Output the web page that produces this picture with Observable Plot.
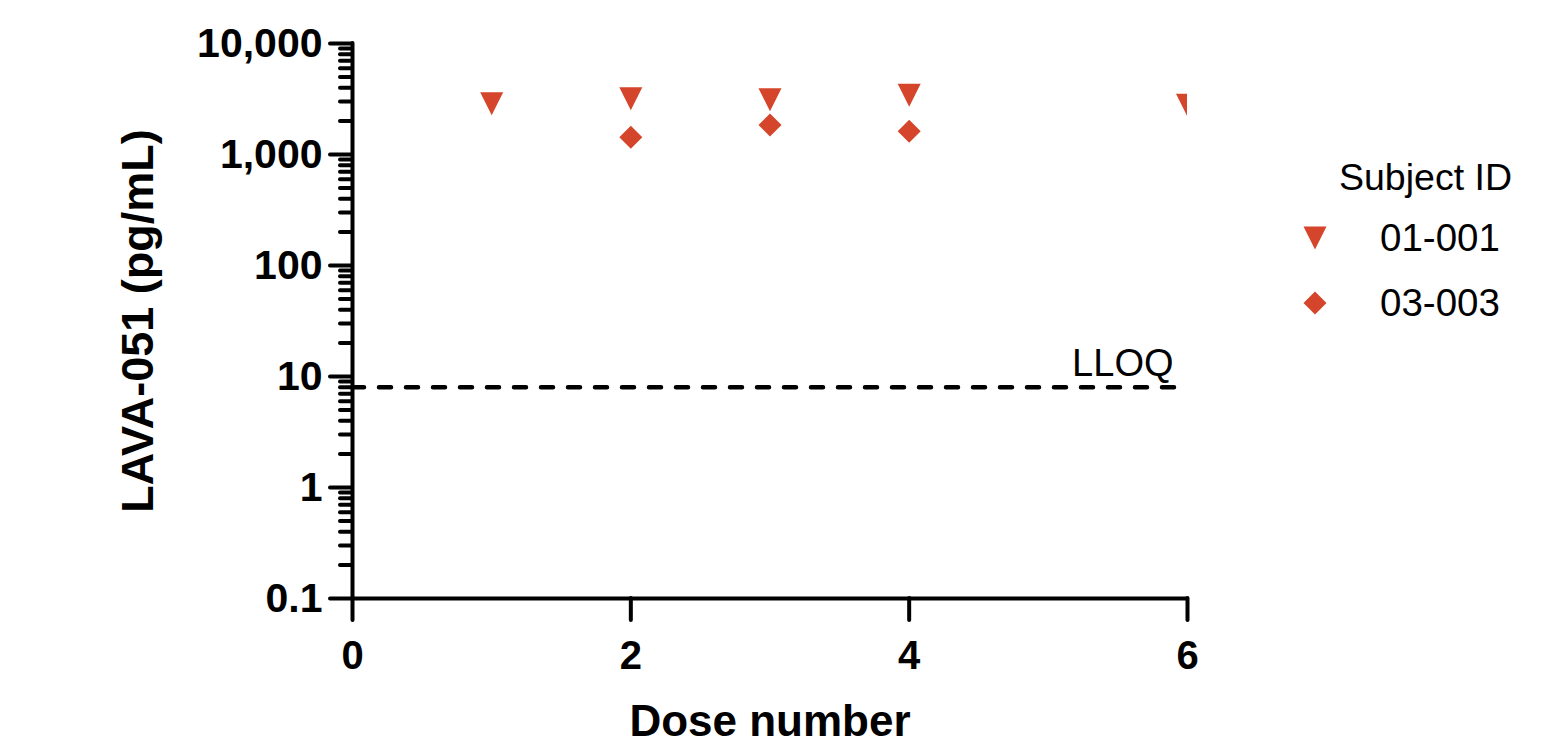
<!DOCTYPE html>
<html>
<head>
<meta charset="utf-8">
<script src="https://cdn.jsdelivr.net/npm/d3@7"></script>
<script src="https://cdn.jsdelivr.net/npm/@observablehq/plot@0.6"></script>
<style>
  html, body { margin: 0; padding: 0; background: white; }
  #wrap { position: relative; width: 1560px; height: 748px; }
  #legend { position: absolute; left: 0; top: 0; pointer-events: none; }
</style>
</head>
<body>
<div id="wrap"></div>
<script>
// ---- data ----
const subjects = ["01-001", "03-003"];
const doses01 = [1, 2, 3, 4, 6];
const values01 = [2870, 3180, 3110, 3420, 2780];
const doses03 = [2, 3, 4];
const values03 = [1430, 1840, 1620];
const lloq = 8;
const lloqLabel = "LLOQ";
const xTicks = [0, 2, 4, 6];
const yMajorTicks = [0.1, 1, 10, 100, 1000, 10000];
const yMinorTicks = [];
for (let e = -1; e < 4; e++) for (let m = 2; m <= 9; m++) yMinorTicks.push(+(m * Math.pow(10, e)).toPrecision(3));
const xLabel = "Dose number";
const yLabel = "LAVA-051 (pg/mL)";
const legendTitle = "Subject ID";

const color = "#d4452b";
const font = "'Liberation Sans', Arial, Helvetica, sans-serif";

const data01 = doses01.map((d, i) => ({dose: d, value: values01[i]}));
const data03 = doses03.map((d, i) => ({dose: d, value: values03[i]}));

const triDown = {draw(ctx, size) { const s = Math.sqrt(size / Math.PI); ctx.moveTo(-s, -s); ctx.lineTo(s, -s); ctx.lineTo(0, s); ctx.closePath(); }};
const diamond = {draw(ctx, size) { const s = Math.sqrt(size / Math.PI); ctx.moveTo(0, -s); ctx.lineTo(s, 0); ctx.lineTo(0, s); ctx.lineTo(-s, 0); ctx.closePath(); }};

const xMax = 6;

const plot = Plot.plot({
  width: 1560, height: 748,
  marginLeft: 352, marginRight: 373, marginTop: 43, marginBottom: 150,
  x: {domain: [0, xMax], axis: null},
  y: {type: "log", domain: [0.1, 10000], axis: null},
  style: {fontFamily: font, background: "white", overflow: "visible", color: "black"},
  marks: [
    Plot.ruleY([lloq], {x1: 0, x2: xMax, stroke: "black", strokeWidth: 4.5, strokeDasharray: "12,15", strokeLinecap: "round"}),
    Plot.text([lloqLabel], {x: xMax, y: lloq, text: d => d, textAnchor: "end", lineAnchor: "bottom", dx: -14, dy: -11, fontSize: 38, fontWeight: "normal", fill: "black"}),
    Plot.axisY({ticks: yMinorTicks, tickSize: 12, tickFormat: () => "", strokeWidth: 4, strokeLinecap: "round", label: null}),
    Plot.axisY({ticks: yMajorTicks, tickSize: 22, tickPadding: 8, tickFormat: ",", fontSize: 41, fontWeight: "bold", strokeWidth: 4, strokeLinecap: "round", label: null}),
    Plot.axisX({ticks: xTicks, tickSize: 22, tickPadding: 20, tickFormat: d => String(d), fontSize: 40, fontWeight: "bold", strokeWidth: 4, strokeLinecap: "round", label: null}),
    Plot.ruleX([0], {y1: 0.1, y2: 10000, stroke: "black", strokeWidth: 4, strokeLinecap: "round"}),
    Plot.ruleY([0.1], {x1: 0, x2: xMax, stroke: "black", strokeWidth: 4, strokeLinecap: "round"}),
    Plot.dot(data01, {x: "dose", y: "value", symbol: triDown, r: 11.5, fill: color, stroke: null, clip: true}),
    Plot.dot(data03, {x: "dose", y: "value", symbol: diamond, r: 11.5, fill: color, stroke: null}),
    Plot.text([xLabel], {frameAnchor: "bottom", textAnchor: "middle", lineAnchor: "bottom", dy: 137, text: d => d, fontSize: 44, fontWeight: "bold", fill: "black"}),
    Plot.text([yLabel], {frameAnchor: "left", textAnchor: "middle", rotate: -90, dx: -214, text: d => d, fontSize: 45, fontWeight: "bold", fill: "black", lineAnchor: "middle"})
  ]
});
document.getElementById("wrap").appendChild(plot);

// ---- legend (HTML overlay) ----
const lg = d3.select("#wrap").append("svg").attr("id", "legend").attr("width", 1560).attr("height", 748);
lg.append("text").attr("x", 1339).attr("y", 190).attr("font-family", font).attr("font-size", 37.5).text(legendTitle);
const syms = [triDown, diamond];
subjects.forEach((s, i) => {
  const cy = 238 + i * 65;
  lg.append("path").attr("transform", `translate(1315,${cy})`).attr("d", d3.symbol(syms[i], 11.5 * 11.5 * Math.PI)()).attr("fill", color);
  lg.append("text").attr("x", 1380).attr("y", cy + 12.5).attr("font-family", font).attr("font-size", 38.5).text(s);
});
</script>
</body>
</html>
